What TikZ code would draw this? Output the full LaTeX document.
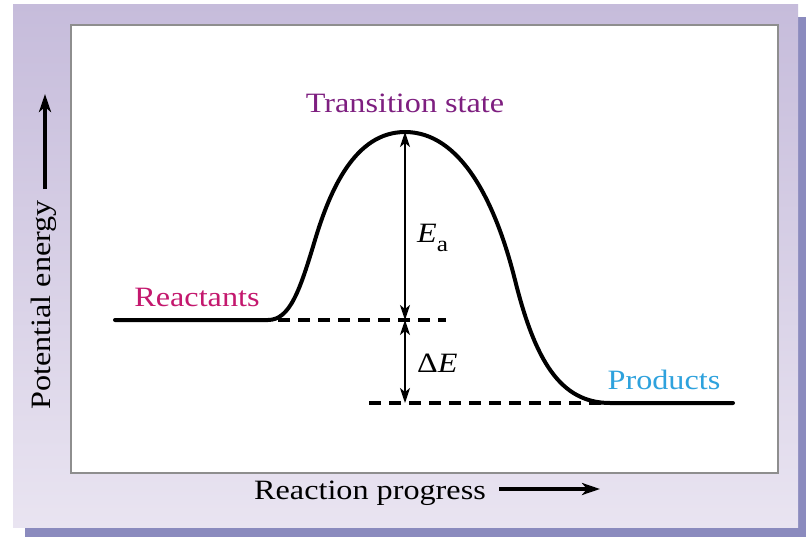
\documentclass[tikz,border=0pt]{standalone}
\usepackage{fontspec}
\setmainfont[FakeStretch=1.15]{Liberation Serif}
\usetikzlibrary{arrows.meta}
\definecolor{panelTop}{HTML}{C6BCDB}
\definecolor{panelBot}{HTML}{E9E4F1}
\definecolor{shadowc}{HTML}{8B8BBE}
\definecolor{framec}{HTML}{8E8E8E}
\definecolor{tscol}{HTML}{7E1F80}
\definecolor{reaccol}{HTML}{C4186E}
\definecolor{prodcol}{HTML}{2EA2DD}
\begin{document}
\begin{tikzpicture}[x=1pt,y=-1pt,
  lbl/.style={inner sep=0pt, font=\fontsize{28}{32}\selectfont},
  curve/.style={line width=4pt, line cap=round, line join=round},
  dashline/.style={line width=3.2pt, dash pattern=on 12pt off 8pt},
  dim/.style={line width=1.9pt, {Stealth[length=15pt,width=10pt,inset=4pt]}-{Stealth[length=15pt,width=10pt,inset=4pt]}},
  axisarrow/.style={line width=3.4pt, -{Stealth[length=18pt,width=12pt,inset=5pt]}}]
\useasboundingbox (0,0) rectangle (806,538);
\fill[white] (0,0) rectangle (806,538);
\fill[shadowc] (25,17) rectangle (806,537);
\shade[top color=panelTop, bottom color=panelBot] (13,4) rectangle (798,527);
\draw[framec, line width=1.8pt, fill=white] (71,25) rectangle (778,473);

% key points
\coordinate (r0) at (115,320);
\coordinate (r1) at (268,320);
\coordinate (ts) at (405,132);
\coordinate (p1) at (610,403);
\coordinate (p0) at (733,403);
\coordinate (ea) at (405,320);
\coordinate (de) at (405,403);
\coordinate (d1a) at (278,320);
\coordinate (d1b) at (446,320);
\coordinate (d2a) at (369,403);
\coordinate (d2b) at (604,403);

% energy curve
\draw[curve] (r0) -- (r1) .. controls (290,320) and (300,290) .. (315,240)
  .. controls (330,190) and (355,132) .. (ts)
  .. controls (460,132) and (495,200) .. (515,280)
  .. controls (535,360) and (560,403) .. (p1) -- (p0);

% dashed levels
\draw[dashline] (d1a) -- (d1b);
\draw[dashline] (d2a) -- (d2b);

% dimension arrows
\draw[dim] (ea) -- (ts);
\draw[dim] (ea) -- (de);

% labels
\node[lbl, text=tscol] (tslbl) at (405,103) {Transition state};
\node[lbl, text=reaccol] (reac) at (197,297) {Reactants};
\node[lbl, text=prodcol] (prod) at (664,380) {Products};
\node[lbl, anchor=base west] (ealbl) at (417,242) {\textit{E}\raisebox{-0.35em}{\fontsize{22}{26}\selectfont a}};
\node[lbl, anchor=base west] (delbl) at (417,372) {Δ\textit{E}};

% axes labels
\node[lbl, rotate=90, anchor=south] (ylbl) at (57,305) {Potential energy};
\coordinate (ya) at (45,189);
\coordinate (yb) at (45,94);
\draw[axisarrow] (ya) -- (yb);
\node[lbl] (xlbl) at (370,493) {Reaction progress};
\coordinate (xa) at (499,489);
\coordinate (xb) at (600,489);
\draw[axisarrow] (xa) -- (xb);
\end{tikzpicture}
\end{document}
